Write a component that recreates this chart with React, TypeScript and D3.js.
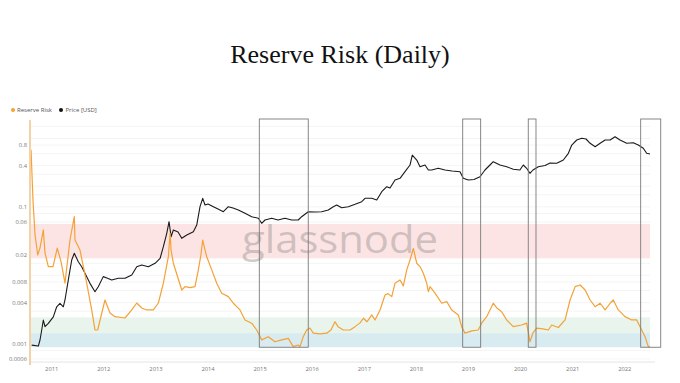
import React from "react";
import * as d3 from "d3";

// ---------- DATA ----------
const rrYears = [
  2010.603, 2010.64, 2010.68, 2010.731, 2010.775, 2010.839, 2010.871, 2010.935, 2011.025, 2011.107,
  2011.18, 2011.255, 2011.351, 2011.434, 2011.447, 2011.543, 2011.672, 2011.768, 2011.831, 2011.883,
  2012.023, 2012.119, 2012.215, 2012.407, 2012.536, 2012.632, 2012.727, 2012.823, 2012.95, 2013.046,
  2013.142, 2013.238, 2013.271, 2013.29, 2013.334, 2013.405, 2013.495, 2013.559, 2013.655, 2013.75,
  2013.814, 2013.86, 2013.898, 2013.942, 2013.975, 2014.071, 2014.167, 2014.263, 2014.39, 2014.486,
  2014.614, 2014.71, 2014.839, 2014.935, 2015.031, 2015.157, 2015.286, 2015.415, 2015.541, 2015.637,
  2015.733, 2015.766, 2015.829, 2015.894, 2015.958, 2016.021, 2016.15, 2016.278, 2016.36, 2016.438,
  2016.495, 2016.597, 2016.726, 2016.822, 2016.917, 2016.981, 2017.052, 2017.142, 2017.205, 2017.301,
  2017.397, 2017.455, 2017.526, 2017.589, 2017.685, 2017.749, 2017.814, 2017.877, 2017.941, 2018.006,
  2018.069, 2018.133, 2018.198, 2018.229, 2018.262, 2018.357, 2018.486, 2018.582, 2018.678, 2018.805,
  2018.869, 2018.933, 2019.067, 2019.188, 2019.253, 2019.349, 2019.413, 2019.476, 2019.547, 2019.637,
  2019.733, 2019.86, 2020.021, 2020.117, 2020.18, 2020.238, 2020.309, 2020.43, 2020.532, 2020.597,
  2020.724, 2020.853, 2020.949, 2021.046, 2021.142, 2021.238, 2021.334, 2021.43, 2021.526, 2021.622,
  2021.718, 2021.779, 2021.875, 2022.004, 2022.132, 2022.228, 2022.324, 2022.388, 2022.451, 2022.484,
];
const rrValues = [
  0.68, 0.126, 0.0388, 0.0198, 0.025, 0.046, 0.0212, 0.0134, 0.0134, 0.025,
  0.0157, 0.0077, 0.0328, 0.0718, 0.0328, 0.0234, 0.0077, 0.00312, 0.00159, 0.00159,
  0.00436, 0.00282, 0.00249, 0.00238, 0.00312, 0.00394, 0.00333, 0.00312, 0.00312, 0.00394,
  0.0077, 0.0187, 0.041, 0.0234, 0.015, 0.0101, 0.0061, 0.00683, 0.0066, 0.00683,
  0.012, 0.0192, 0.0328, 0.0234, 0.0187, 0.012, 0.00765, 0.00547, 0.00488, 0.00391,
  0.00312, 0.00223, 0.002, 0.00159, 0.00114, 0.00127, 0.00107, 0.00114, 0.0012, 0.00091,
  0.00096, 0.00091, 0.00127, 0.00159, 0.0017, 0.00143, 0.0014, 0.00143, 0.00159, 0.0021,
  0.00178, 0.00159, 0.00159, 0.00178, 0.00202, 0.00236, 0.0021, 0.00264, 0.00223, 0.00312,
  0.00516, 0.0054, 0.00488, 0.00765, 0.00855, 0.007, 0.012, 0.0167, 0.0248, 0.015,
  0.0134, 0.0107, 0.00765, 0.00577, 0.00683, 0.0055, 0.00391, 0.00412, 0.00312, 0.00264,
  0.00178, 0.00143, 0.00154, 0.00159, 0.002, 0.00249, 0.00312, 0.00391, 0.00333, 0.00294,
  0.00223, 0.00178, 0.00188, 0.002, 0.00107, 0.00144, 0.00169, 0.00165, 0.00159, 0.00188,
  0.00173, 0.00223, 0.00436, 0.00683, 0.00723, 0.0061, 0.00436, 0.00348, 0.00391, 0.00312,
  0.00391, 0.00436, 0.00312, 0.00249, 0.00223, 0.00223, 0.00159, 0.00127, 0.00091, 0.00091,
];

const priceYears = [
  2010.616, 2010.743, 2010.775, 2010.808, 2010.839, 2010.871, 2010.935, 2011.031, 2011.096, 2011.159,
  2011.223, 2011.255, 2011.319, 2011.384, 2011.434, 2011.511, 2011.576, 2011.639, 2011.735, 2011.831,
  2011.894, 2011.99, 2012.06, 2012.152, 2012.278, 2012.407, 2012.536, 2012.632, 2012.727, 2012.854,
  2012.983, 2013.079, 2013.142, 2013.207, 2013.251, 2013.29, 2013.334, 2013.424, 2013.495, 2013.591,
  2013.718, 2013.783, 2013.846, 2013.898, 2013.942, 2014.0, 2014.102, 2014.192, 2014.294, 2014.39,
  2014.48, 2014.582, 2014.71, 2014.839, 2014.966, 2015.031, 2015.094, 2015.223, 2015.344, 2015.478,
  2015.607, 2015.733, 2015.798, 2015.925, 2016.054, 2016.182, 2016.309, 2016.405, 2016.47, 2016.566,
  2016.693, 2016.822, 2016.95, 2017.013, 2017.142, 2017.238, 2017.334, 2017.43, 2017.493, 2017.589,
  2017.685, 2017.781, 2017.877, 2017.921, 2018.006, 2018.069, 2018.165, 2018.229, 2018.294, 2018.42,
  2018.549, 2018.683, 2018.837, 2018.9, 2018.996, 2019.106, 2019.221, 2019.317, 2019.413, 2019.476,
  2019.605, 2019.733, 2019.86, 2019.988, 2020.052, 2020.117, 2020.18, 2020.238, 2020.34, 2020.47,
  2020.566, 2020.693, 2020.82, 2020.916, 2020.981, 2021.077, 2021.173, 2021.255, 2021.334, 2021.43,
  2021.526, 2021.622, 2021.718, 2021.812, 2021.908, 2022.036, 2022.163, 2022.259, 2022.355, 2022.42,
  2022.484,
];
const priceValues = [
  0.064, 0.06, 0.09, 0.175, 0.34, 0.218, 0.273, 0.42, 0.82, 1.03,
  0.82, 1.29, 4.9, 18.4, 28.8, 16.4, 11.8, 7.6, 3.9, 2.23,
  3.1, 6.1, 5.6, 4.9, 5.5, 5.5, 6.8, 11.8, 13.2, 11.8,
  14.8, 20.6, 44.7, 109, 236, 86.9, 136, 119, 78, 97,
  121, 189, 640, 1119, 716, 766, 640, 550, 459, 640,
  587, 514, 412, 329, 296, 212, 264, 296, 264, 296,
  264, 264, 329, 459, 450, 459, 514, 640, 716, 598,
  640, 750, 893, 1119, 1119, 1000, 1738, 2422, 2220, 3784,
  4236, 6577, 10260, 19950, 14300, 9160, 10260, 7360, 7360, 8240,
  7360, 6880, 6577, 4236, 3784, 3900, 4710, 7360, 10260, 12790,
  10260, 9160, 7710, 7360, 10260, 8240, 5900, 7360, 9160, 9930,
  11720, 11480, 14300, 22340, 38800, 54200, 60700, 57900, 43500, 34670,
  43500, 54200, 54200, 67500, 54200, 43500, 45300, 38800, 31200, 22340,
  21330,
];

const rrTickValues = [0.8, 0.4, 0.1, 0.06, 0.02, 0.008, 0.004, 0.001, 0.0006];
const rrTickLabels = ["0.8", "0.4", "0.1", "0.06", "0.02", "0.008", "0.004", "0.001", "0.0006"];
const gridValues = [
  1.5, 1, 0.8, 0.6, 0.4, 0.3, 0.2, 0.15, 0.1, 0.08, 0.06, 0.04, 0.03, 0.02, 0.015, 0.01, 0.008, 0.006,
  0.004, 0.003, 0.002, 0.0015, 0.001, 0.0008, 0.0006,
];
const yearTicks = [2011, 2012, 2013, 2014, 2015, 2016, 2017, 2018, 2019, 2020, 2021, 2022];

const bandLows = [0.0177, 0.00143, 0.00089];
const bandHighs = [0.0562, 0.00244, 0.00143];
const bandColors = ["#fde4e4", "#e8f4ec", "#d7ebf0"];

const boxStarts = [2014.985, 2018.889, 2020.148, 2022.305];
const boxEnds = [2015.925, 2019.234, 2020.296, 2022.69];
const boxBottomValue = 0.00089;

const xDomainYears = [2010.583, 2022.484];
const rrDomain = [0.000542, 1.854];
const priceDomain = [0.0208, 205000];

// ---------- HELPERS ----------
const toDate = (y: number) => {
  const yr = Math.floor(y);
  const s = Date.UTC(yr, 0, 1);
  const e = Date.UTC(yr + 1, 0, 1);
  return new Date(s + (y - yr) * (e - s));
};

const W = 680;
const H = 383;
const L = 30;
const R = 650;
const T = 120;
const B = 362;

export default function App() {
  const x = d3.scaleUtc().domain(xDomainYears.map(toDate)).range([L, R]);
  const yRR = d3.scaleLog().domain(rrDomain).range([B, T]);
  const yP = d3.scaleLog().domain(priceDomain).range([B, T]);

  const rrData = rrYears.map((t, i) => [t, rrValues[i]] as [number, number]);
  const pData = priceYears.map((t, i) => [t, priceValues[i]] as [number, number]);

  const rrLine = d3
    .line<[number, number]>()
    .x((d) => x(toDate(d[0])))
    .y((d) => yRR(d[1]));
  const pLine = d3
    .line<[number, number]>()
    .x((d) => x(toDate(d[0])))
    .y((d) => yP(d[1]));

  const labelFont = "'Open Sans', 'Noto Sans', sans-serif";

  return (
    <svg
      width={W}
      height={H}
      viewBox={`0 0 ${W} ${H}`}
      style={{ position: "absolute", left: 0, top: 0, background: "#fff" }}
    >
      <rect x={0} y={0} width={W} height={H} fill="#fff" />
      <text
        x={W / 2}
        y={63}
        textAnchor="middle"
        fontFamily="'Liberation Serif', 'DejaVu Serif', serif"
        fontSize={26}
        fill="#111"
      >
        Reserve Risk (Daily)
      </text>

      {/* legend */}
      <circle cx={13} cy={110} r={2} fill="#f4a236" />
      <text x={17} y={112.2} fontFamily={labelFont} fontSize={6} fill="#555">
        Reserve Risk
      </text>
      <circle cx={61} cy={110} r={2} fill="#111" />
      <text x={65.5} y={112.2} fontFamily={labelFont} fontSize={6} fill="#555">
        Price [USD]
      </text>

      {/* grid */}
      {gridValues.map((v, i) => (
        <line key={"g" + i} x1={L} x2={R} y1={yRR(v)} y2={yRR(v)} stroke="#f1f1f1" strokeWidth={0.8} />
      ))}

      {/* bands */}
      {bandLows.map((lo, i) => (
        <rect
          key={"b" + i}
          x={L}
          width={R - L}
          y={yRR(bandHighs[i])}
          height={yRR(lo) - yRR(bandHighs[i])}
          fill={bandColors[i]}
        />
      ))}

      {/* watermark */}
      <text
        x={340}
        y={253}
        textAnchor="middle"
        fontFamily="'Open Sans', sans-serif"
        fontSize={38}
        textLength={196}
        lengthAdjust="spacingAndGlyphs"
        fill="#a8a0a0"
        fillOpacity={0.55}
      >
        glassnode
      </text>

      {/* axis lines */}
      <line x1={L} x2={655} y1={B} y2={B} stroke="#e4e4e4" strokeWidth={1} />

      {/* y tick labels */}
      {rrTickValues.map((v, i) => (
        <text
          key={"yt" + i}
          x={27}
          y={yRR(v) + 2}
          textAnchor="end"
          fontFamily={labelFont}
          fontSize={5.8}
          fill="#777"
        >
          {rrTickLabels[i]}
        </text>
      ))}

      {/* x tick labels */}
      {yearTicks.map((yr) => (
        <text
          key={"xt" + yr}
          x={x(toDate(yr))}
          y={371}
          textAnchor="middle"
          fontFamily={labelFont}
          fontSize={5.8}
          fill="#777"
        >
          {yr}
        </text>
      ))}

      {/* series */}
      <path d={pLine(pData) || ""} fill="none" stroke="#1a1a1a" strokeWidth={1.1} strokeLinejoin="round" />
      <path d={rrLine(rrData) || ""} fill="none" stroke="#f4a236" strokeWidth={1.2} strokeLinejoin="round" />

      {/* left axis line (orange) */}
      <line x1={L} x2={L} y1={T} y2={365} stroke="#f3d3a6" strokeWidth={2} />

      {/* highlight boxes */}
      {boxStarts.map((s, i) => (
        <rect
          key={"box" + i}
          x={x(toDate(s))}
          y={T - 1}
          width={x(toDate(boxEnds[i])) - x(toDate(s))}
          height={yRR(boxBottomValue) - (T - 1)}
          fill="none"
          stroke="#7a7a7a"
          strokeWidth={0.9}
        />
      ))}
    </svg>
  );
}
